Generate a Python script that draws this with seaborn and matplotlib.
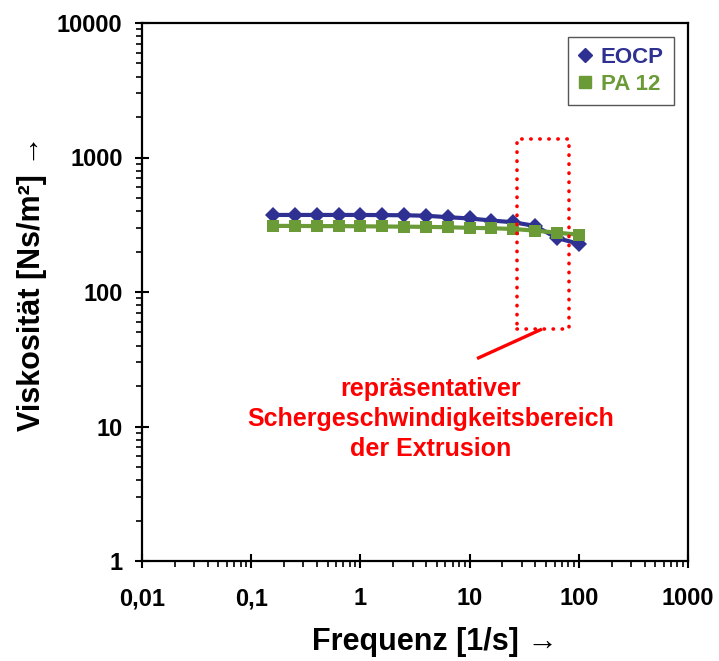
import numpy as np
import pandas as pd
import matplotlib
matplotlib.use("Agg")
import matplotlib.pyplot as plt
import seaborn as sns
from matplotlib.lines import Line2D
from matplotlib.ticker import FixedLocator, FixedFormatter, LogLocator, NullFormatter

# ---- data ----
freq = [0.158, 0.251, 0.398, 0.631, 1.0, 1.585, 2.51, 3.98, 6.31, 10.0, 15.85, 25.1, 39.8, 63.1, 100.0]
eocp = [374, 374, 374, 374, 374, 373, 372, 369, 360, 352, 340, 330, 310, 252, 228]
pa12 = [310, 310, 309, 309, 308, 307, 306, 305, 303, 300, 298, 294, 286, 276, 267]
series_names = ["EOCP", "PA 12"]
x_ticks = [0.01, 0.1, 1, 10, 100, 1000]
x_tick_labels = ["0,01", "0,1", "1", "10", "100", "1000"]
y_ticks = [1, 10, 100, 1000, 10000]
y_tick_labels = ["1", "10", "100", "1000", "10000"]
region_x = [27, 82]
region_y = [53, 1380]
pointer_x = [11.7, 46]
pointer_y = [32, 53]
annotation = "repräsentativer\nSchergeschwindigkeitsbereich\nder Extrusion"
annotation_pos = (4.4, 11.4)

df = pd.DataFrame({
    "Frequenz": freq * 2,
    "Viskositaet": eocp + pa12,
    "Material": [series_names[0]] * len(freq) + [series_names[1]] * len(freq),
})

sns.set_theme(style="white")
plt.rcParams["font.family"] = ["Liberation Sans", "DejaVu Sans"]
plt.rcParams["font.weight"] = "bold"
plt.rcParams["text.color"] = "black"

colors = {"EOCP": "#2E3192", "PA 12": "#6B9B37"}

W, H = 719, 661
L, R, T, B = 142, 688, 23, 561
fig = plt.figure(figsize=(W / 100, H / 100), dpi=100)
ax = fig.add_axes([L / W, 1 - B / H, (R - L) / W, (B - T) / H])

sns.lineplot(data=df, x="Frequenz", y="Viskositaet", hue="Material", style="Material",
             palette=colors, markers={"EOCP": "D", "PA 12": "s"}, dashes=False,
             linewidth=3, markersize=8.5, markeredgewidth=0, ax=ax, legend=False)

ax.set_xscale("log")
ax.set_yscale("log")
ax.set_xlim(0.01, 1000)
ax.set_ylim(1, 10000)

ax.xaxis.set_major_locator(FixedLocator(x_ticks))
ax.xaxis.set_major_formatter(FixedFormatter(x_tick_labels))
ax.yaxis.set_major_locator(FixedLocator(y_ticks))
ax.yaxis.set_major_formatter(FixedFormatter(y_tick_labels))
ax.xaxis.set_minor_locator(LogLocator(base=10, subs=np.arange(2, 10), numticks=20))
ax.yaxis.set_minor_locator(LogLocator(base=10, subs=np.arange(2, 10), numticks=20))
ax.xaxis.set_minor_formatter(NullFormatter())
ax.yaxis.set_minor_formatter(NullFormatter())

ax.tick_params(axis="both", which="major", direction="inout", length=10, width=1.5,
               labelsize=17, colors="black", bottom=True, left=True)
ax.tick_params(axis="x", which="major", pad=14)
ax.tick_params(axis="y", which="major", pad=9)
ax.tick_params(axis="both", which="minor", direction="out", length=4.5, width=1.2,
               colors="black", bottom=True, left=True)
for lab in ax.get_xticklabels() + ax.get_yticklabels():
    lab.set_fontweight("bold")
    lab.set_color("black")

for s in ax.spines.values():
    s.set_color("black")
    s.set_linewidth(1.6)

ax.set_xlabel("Frequenz [1/s] →", fontsize=22, fontweight="bold", color="black")
ax.set_ylabel("Viskosität [Ns/m²] →", fontsize=22, fontweight="bold", color="black")
ax.xaxis.label.set_va("center")
ax.xaxis.set_label_coords((435 - L) / (R - L), -(642 - B) / (B - T))
ax.yaxis.label.set_va("center")
ax.yaxis.set_label_coords(-(L - 32) / (R - L), (B - 283) / (B - T))

# red dotted region
rect = plt.Rectangle((region_x[0], region_y[0]), region_x[1] - region_x[0], region_y[1] - region_y[0],
                     fill=False, edgecolor="red", linestyle=(0, (0.1, 2.4)), linewidth=2.6,
                     capstyle="round", joinstyle="round", zorder=5)
ax.add_patch(rect)

# annotation
ax.plot(pointer_x, pointer_y, color="red", lw=2.4, solid_capstyle="butt", zorder=5)
ax.text(annotation_pos[0], annotation_pos[1], annotation, color="red", fontsize=18,
        fontweight="bold", ha="center", va="center", linespacing=1.3)

# legend
handles = [Line2D([], [], marker="D", color=colors["EOCP"], linestyle="none", markersize=7),
           Line2D([], [], marker="s", color=colors["PA 12"], linestyle="none", markersize=8)]
leg = ax.legend(handles, series_names, loc="upper right",
                bbox_to_anchor=((674 - L) / (R - L), (B - 37) / (B - T)),
                frameon=True, fancybox=False, edgecolor="#555555", framealpha=1,
                prop={"size": 16, "weight": "bold"}, handlelength=0.7, handletextpad=0.35,
                borderpad=0.45, labelspacing=0.25, borderaxespad=0)
leg.get_frame().set_linewidth(1.0)
for t, n in zip(leg.get_texts(), series_names):
    t.set_color(colors[n])

fig.savefig("out.png", dpi=100)
